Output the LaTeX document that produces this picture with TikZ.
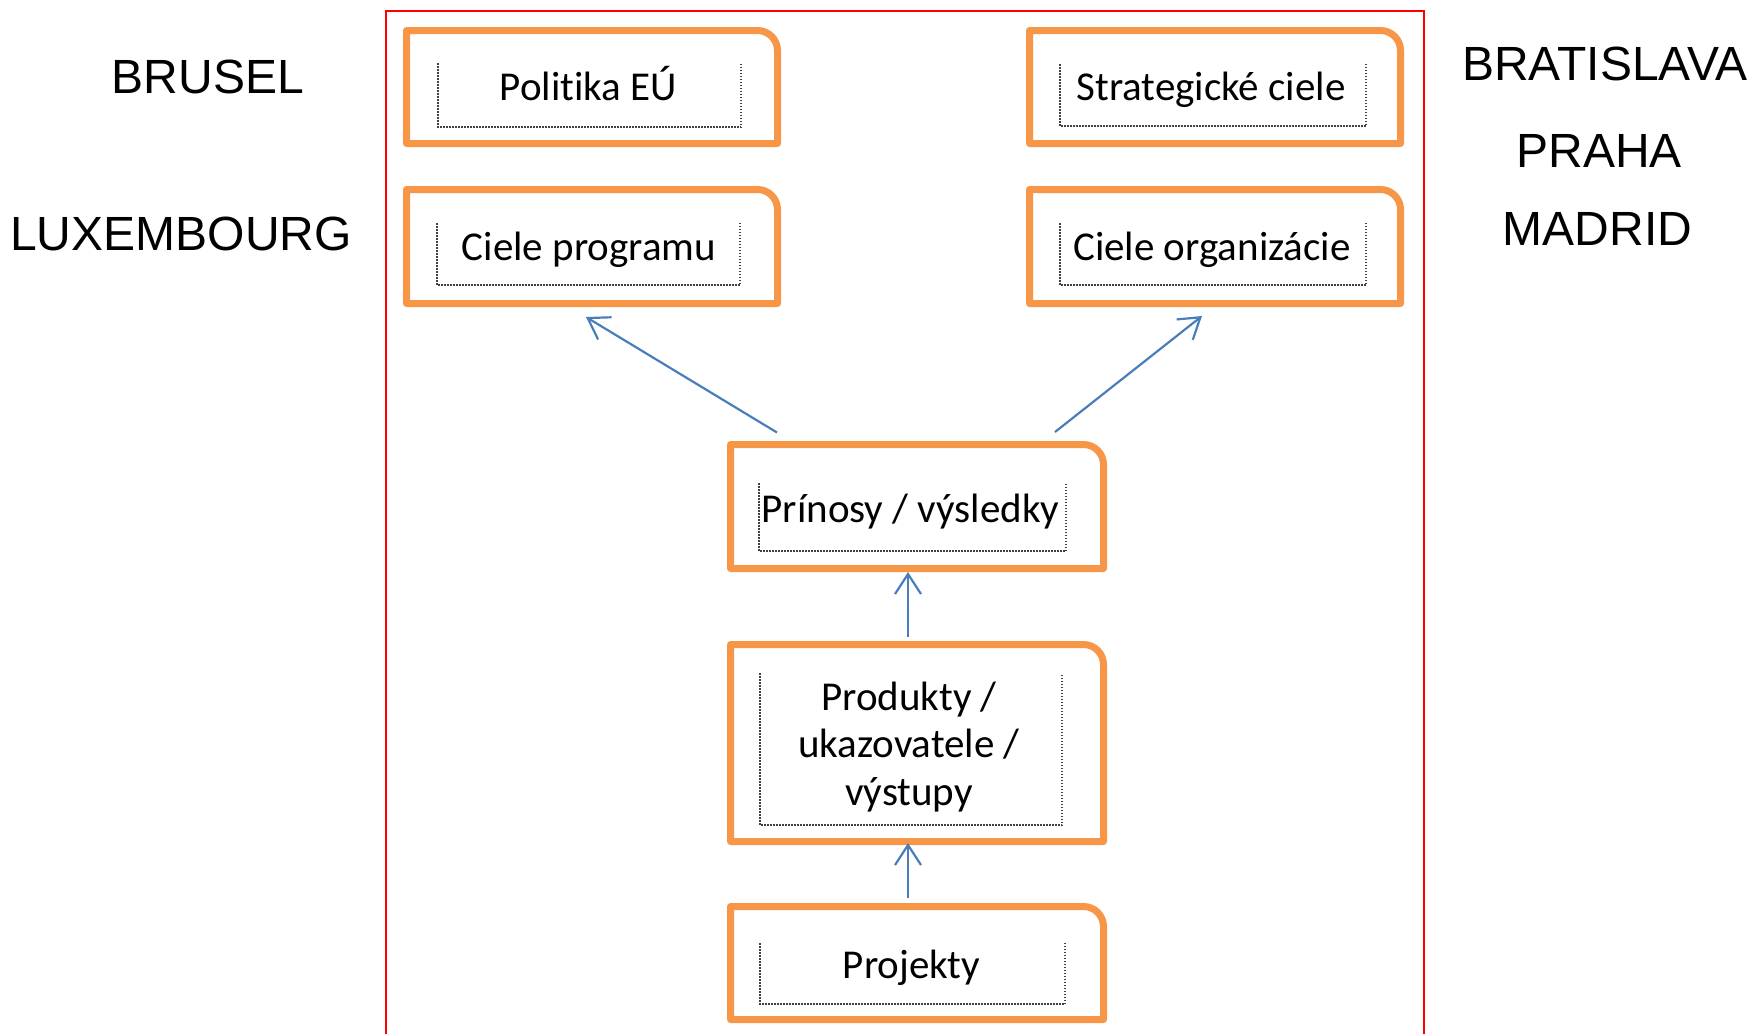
\documentclass[tikz,border=0pt]{standalone}
\usepackage{fontspec}
\setmainfont[Ligatures=NoCommon]{Carlito}
\newfontfamily\arialf{Liberation Sans}
\usetikzlibrary{arrows.meta,calc}
\definecolor{boxorange}{HTML}{F79646}
\definecolor{arrowblue}{HTML}{4A7EBB}
\definecolor{framered}{HTML}{FF0000}
\definecolor{dotgray}{HTML}{404040}

\newcommand\orangebox[5]{%
  \node[boxshape, minimum width=#4pt, minimum height=#5pt] (#1) at (#2,#3) {};
  \draw[obox] (#1.south west) -- (#1.north west) [rounded corners=20pt] -- (#1.north east) [sharp corners] -- (#1.south east) -- cycle;}
\newcommand\dotframe[5]{%
  \node[boxshape, minimum width=#4pt, minimum height=#5pt] (#1) at (#2,#3) {};
  \draw[dotbox] (#1.north west) -- (#1.south west) -- (#1.south east) -- (#1.north east);}

\begin{document}
\begin{tikzpicture}[x=1pt,y=-1pt,
  boxshape/.style={inner sep=0pt, outer sep=0pt, draw=none, rectangle},
  boxtext/.style={inner sep=0pt, anchor=base, font=\fontsize{41}{47.5}\selectfont, text=black},
  citytext/.style={inner sep=0pt, anchor=base, font=\arialf\fontsize{48}{56}\selectfont, text=black},
  obox/.style={draw=boxorange, line width=7pt, line join=round},
  dotbox/.style={draw=dotgray, line width=1.5pt, dash pattern=on 1.5pt off 1.5pt},
  link/.style={draw=arrowblue, line width=2.2pt, -{Straight Barb[length=20pt,width=26pt]}}
]
\useasboundingbox (0,0) rectangle (1752,1034);

% red frame
\draw[framered, line width=2pt] (386,1034) -- (386,11) -- (1424,11) -- (1424,1034);

% orange boxes
\orangebox{politika}{592}{87}{371}{113}
\orangebox{strateg}{1215}{87}{371}{113}
\orangebox{program}{592}{246.5}{371}{114}
\orangebox{org}{1215}{246.5}{371}{114}
\orangebox{prinosy}{917}{506.5}{373}{124}
\orangebox{produkty}{917}{743}{373}{197}
\orangebox{projekty}{917}{963}{373}{113}

% dotted inner frames
\dotframe{politikaIn}{589.5}{95}{303}{64}
\dotframe{strategIn}{1213}{95}{306}{62}
\dotframe{programIn}{588.5}{254}{303}{62}
\dotframe{orgIn}{1213}{254}{306}{62}
\dotframe{prinosyIn}{912.5}{517}{307}{68}
\dotframe{produktyIn}{911}{749}{302}{152}
\dotframe{projektyIn}{912.5}{973.5}{305}{61}

% box texts
\node[boxtext] (politikaT) at (588.5,100) {Politika EÚ};
\node[boxtext] (strategT) at (1211,100) {Strategické ciele};
\node[boxtext] (programT) at (589,260) {Ciele programu};
\node[boxtext] (orgT) at (1212,260) {Ciele organizácie};
\node[boxtext] (prinosyT) at (910.5,522) {Prínosy / výsledky};
\node[boxtext] (produktyT) at (909,710) {\begin{tabular}[t]{@{}c@{}}Produkty /\\ukazovatele /\\výstupy\end{tabular}};
\node[boxtext] (projektyT) at (911.5,978) {Projekty};

% arrows
\draw[link] ($(produkty.north)+(-9,-7.5)$) -- ($(prinosy.south)+(-9,3.5)$);
\draw[link] ($(projekty.north)+(-9,-8.5)$) -- ($(produkty.south)+(-9,1.5)$);
\draw[link] ($(prinosy.north)+(-140,-12)$) -- ($(program.south)+(-6,13.5)$);
\draw[link] ($(prinosy.north)+(138,-12.5)$) -- ($(org.south)+(-13,12.5)$);

% city labels
\node[citytext] (brusel) at (208,93) {BRUSEL};
\node[citytext] (lux) at (181,250) {LUXEMBOURG};
\node[citytext] (bratislava) at (1605,80) {BRATISLAVA};
\node[citytext] (praha) at (1599,167) {PRAHA};
\node[citytext] (madrid) at (1597.5,245) {MADRID};
\end{tikzpicture}
\end{document}
